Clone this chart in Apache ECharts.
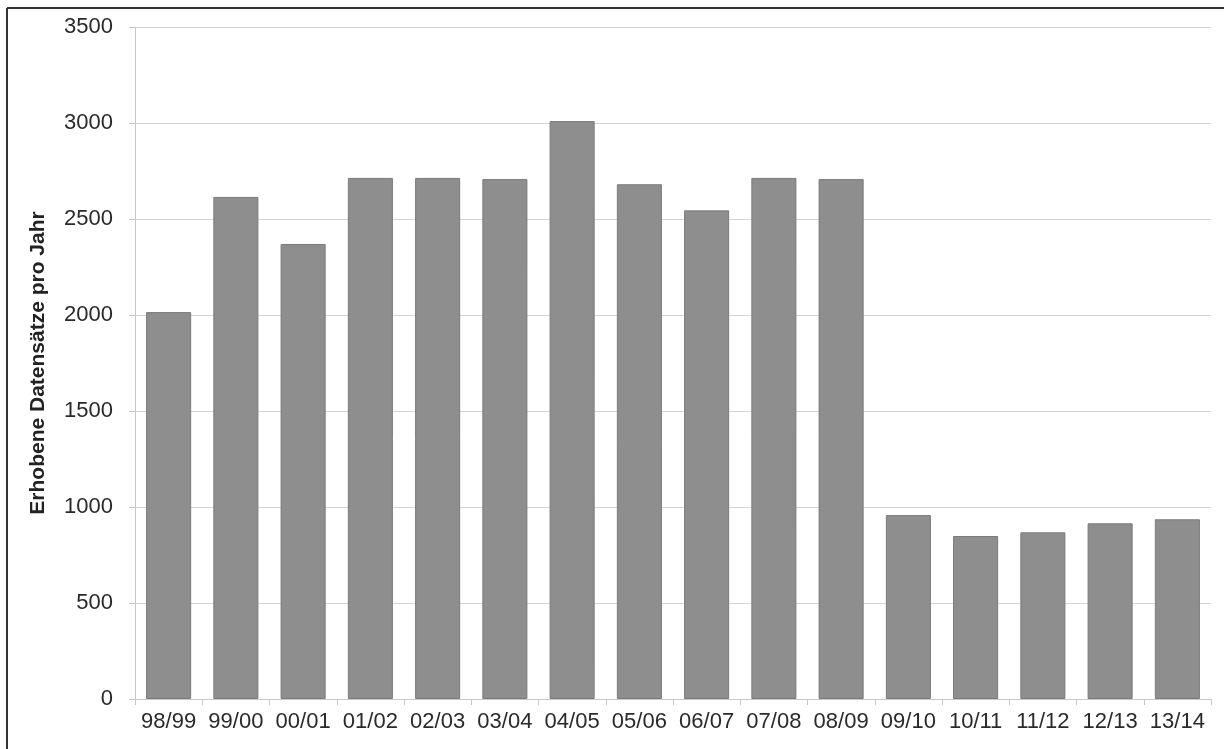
<!DOCTYPE html>
<html><head><meta charset="utf-8">
<script src="https://cdn.jsdelivr.net/npm/echarts@6/dist/echarts.min.js"></script>
<style>html,body{margin:0;padding:0;background:#fff}#c{width:1224px;height:749px}</style>
</head><body><div id="c"></div>
<script>
const categories = ["98/99","99/00","00/01","01/02","02/03","03/04","04/05","05/06","06/07","07/08","08/09","09/10","10/11","11/12","12/13","13/14"];
const values = [2015,2615,2370,2714,2714,2708,3010,2681,2545,2714,2708,958,849,868,915,936];
const yAxisTitle = "Erhobene Datensätze pro Jahr";

const chart = echarts.init(document.getElementById('c'), null, {renderer:'canvas'});
chart.setOption({
  animation:false,
  backgroundColor:'#fff',
  graphic:[
    {type:'line', shape:{x1:7,y1:8,x2:1224,y2:8}, style:{stroke:'#333',lineWidth:2}},
    {type:'line', shape:{x1:7,y1:8,x2:7,y2:749}, style:{stroke:'#333',lineWidth:2}}
  ],
  grid:{left:135,right:13,top:27,bottom:50,containLabel:false},
  xAxis:{type:'category',data:categories,
    axisLine:{lineStyle:{color:'#c8c8c8'}},
    axisTick:{show:true,length:6,lineStyle:{color:'#c8c8c8'}},
    axisLabel:{interval:0,hideOverlap:false,color:'#2a2a2a',fontSize:22,fontFamily:'Liberation Sans, Arial, sans-serif',margin:12}},
  yAxis:{type:'value',min:0,max:3500,interval:500,
    name:yAxisTitle,nameLocation:'middle',nameGap:86,
    nameTextStyle:{color:'#222',fontSize:21,fontWeight:'bold',fontFamily:'Liberation Sans, Arial, sans-serif'},
    axisLine:{show:true,lineStyle:{color:'#c8c8c8'}},
    axisTick:{show:true,length:6,lineStyle:{color:'#c8c8c8'}},
    axisLabel:{color:'#2a2a2a',fontSize:22,fontFamily:'Liberation Sans, Arial, sans-serif',margin:22,
      formatter:function(v){return String(v);}},
    splitLine:{lineStyle:{color:'#d6d6d6'}}},
  series:[{type:'bar',data:values,barCategoryGap:'33%',
    itemStyle:{color:'#8e8e8e',borderColor:'#7a7a7a',borderWidth:1}}]
});
</script></body></html>
